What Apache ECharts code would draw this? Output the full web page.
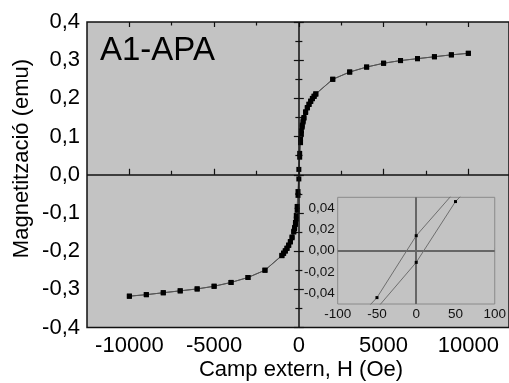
<!DOCTYPE html>
<html>
<head>
<meta charset="utf-8">
<script src="https://cdn.jsdelivr.net/npm/echarts@6/dist/echarts.min.js"></script>
<style>
  html, body { margin: 0; padding: 0; background: #fff; }
  #chart { width: 509px; height: 383px; }
</style>
</head>
<body>
<div id="chart"></div>
<script>
// descending branch (field from +10000 down to -10000 Oe)
var fieldDown = [10000, 9000, 8000, 7000, 6000, 5000, 4000, 3000, 2000, 1000, 900, 800, 700, 600, 500, 400, 300, 250, 200, 150, 100, 50, 0,
  -50, -100, -150, -200, -250, -300, -400, -500, -600, -700, -800, -900, -1000, -2000, -3000, -4000, -5000, -6000, -7000, -8000, -9000, -10000];
var magDown = [0.318, 0.314, 0.309, 0.304, 0.299, 0.292, 0.282, 0.269, 0.250, 0.212, 0.206, 0.200, 0.193, 0.185, 0.176, 0.165, 0.150, 0.141, 0.130, 0.115, 0.094, 0.056, 0.014,
  -0.044, -0.083, -0.108, -0.125, -0.138, -0.148, -0.163, -0.175, -0.184, -0.192, -0.199, -0.205, -0.211, -0.250, -0.269, -0.282, -0.292, -0.299, -0.304, -0.309, -0.314, -0.318];

// ascending branch (field from -10000 back up to +10000 Oe)
var fieldUp = [-10000, -9000, -8000, -7000, -6000, -5000, -4000, -3000, -2000, -1000, -900, -800, -700, -600, -500, -400, -300, -250, -200, -150, -100, -50, 0,
  50, 100, 150, 200, 250, 300, 400, 500, 600, 700, 800, 900, 1000, 2000, 3000, 4000, 5000, 6000, 7000, 8000, 9000, 10000];
var magUp = [-0.318, -0.314, -0.309, -0.304, -0.299, -0.292, -0.282, -0.269, -0.250, -0.212, -0.206, -0.200, -0.193, -0.185, -0.176, -0.165, -0.150, -0.141, -0.130, -0.116, -0.093, -0.054, -0.011,
  0.046, 0.084, 0.108, 0.125, 0.138, 0.148, 0.163, 0.175, 0.184, 0.192, 0.199, 0.205, 0.211, 0.250, 0.269, 0.282, 0.292, 0.299, 0.304, 0.309, 0.314, 0.318];

var majorTicksH = [-10000, -5000, 0, 5000, 10000];
var minorTicksH = [-7500, -2500, 2500, 7500];
var insetTicksM = [-0.04, -0.02, 0, 0.02, 0.04];

function pairs(xs, ys) {
  return xs.map(function (x, i) { return [x, ys[i]]; });
}
function comma(v, d) {
  return v.toFixed(d).replace('.', ',');
}

var FONT = 'Liberation Sans, Arial, sans-serif';
var plotGray = '#c3c3c3';

var myChart = echarts.init(document.getElementById('chart'));

function mainX(pos, ticks, len, labels) {
  return {
    type: 'value', gridIndex: 0, position: pos,
    min: -12500, max: 12400,
    axisLine: {show: false},
    splitLine: {show: false},
    axisTick: {show: true, inside: true, length: len, customValues: ticks, lineStyle: {color: '#111', width: 1.2}},
    axisLabel: labels ? {
      show: true, customValues: ticks, color: '#000', fontSize: 22, fontFamily: FONT, margin: 7,
      formatter: function (v) { return String(v); }
    } : {show: false}
  };
}

var insetTick = {show: true, inside: true, length: 3, lineStyle: {color: '#888', width: 1}};

myChart.setOption({
  animation: false,
  backgroundColor: '#fff',
  grid: [
    {left: 87, top: 22, right: -4, bottom: 55.5, show: true, backgroundColor: plotGray, borderColor: '#111', borderWidth: 1.5, z: 0},
    {left: 337.7, top: 197.3, width: 157.3, height: 106.7, show: true, backgroundColor: plotGray, borderColor: '#8a8a8a', borderWidth: 1, z: 3}
  ],
  xAxis: [
    mainX('bottom', majorTicksH, 6, true),
    mainX('bottom', minorTicksH, 4, false),
    mainX('top', majorTicksH, 5, false),
    mainX('top', minorTicksH, 3.5, false),
    {
      type: 'value', gridIndex: 1, position: 'bottom', min: -100, max: 100, interval: 50,
      axisLine: {show: false}, splitLine: {show: false},
      axisTick: insetTick,
      minorTick: {show: true, splitNumber: 2, length: 2, lineStyle: {color: '#888'}},
      axisLabel: {color: '#111', fontSize: 13.5, fontFamily: FONT, margin: 3}
    },
    {
      type: 'value', gridIndex: 1, position: 'top', min: -100, max: 100, interval: 50,
      axisLine: {show: false}, splitLine: {show: false},
      axisTick: insetTick,
      minorTick: {show: true, splitNumber: 2, length: 2, lineStyle: {color: '#888'}},
      axisLabel: {show: false}
    }
  ],
  yAxis: [
    {
      type: 'value', gridIndex: 0, position: 'left', min: -0.4, max: 0.4, interval: 0.1,
      axisLine: {show: false}, splitLine: {show: false},
      axisTick: {show: true, inside: true, length: 5, lineStyle: {color: '#111', width: 1.2}},
      minorTick: {show: true, splitNumber: 2, length: 3.5, lineStyle: {color: '#111', width: 1.2}},
      axisLabel: {
        color: '#000', fontSize: 22, fontFamily: FONT, margin: 7,
        formatter: function (v) { return comma(v, 1); }
      }
    },
    {
      type: 'value', gridIndex: 0, position: 'right', min: -0.4, max: 0.4, interval: 0.1,
      axisLine: {show: false}, splitLine: {show: false},
      axisTick: {show: true, inside: true, length: 5, lineStyle: {color: '#111', width: 1.2}},
      minorTick: {show: true, splitNumber: 2, length: 3.5, lineStyle: {color: '#111', width: 1.2}},
      axisLabel: {show: false}
    },
    {
      type: 'value', gridIndex: 1, position: 'left', min: -0.05, max: 0.05,
      axisLine: {show: false}, splitLine: {show: false},
      axisTick: Object.assign({customValues: insetTicksM}, insetTick),
      axisLabel: {
        customValues: insetTicksM, color: '#111', fontSize: 13.5, fontFamily: FONT, margin: 3,
        formatter: function (v) { return comma(v, 2); }
      }
    },
    {
      type: 'value', gridIndex: 1, position: 'right', min: -0.05, max: 0.05,
      axisLine: {show: false}, splitLine: {show: false},
      axisTick: Object.assign({customValues: insetTicksM}, insetTick),
      axisLabel: {show: false}
    }
  ],
  series: [
    {
      type: 'line', xAxisIndex: 0, yAxisIndex: 0, data: pairs(fieldDown, magDown),
      symbol: 'rect', symbolSize: 5, itemStyle: {color: '#000'},
      lineStyle: {color: '#555', width: 1}, z: 2,
      markLine: {
        silent: true, symbol: 'none', label: {show: false},
        lineStyle: {color: '#111', width: 1.5, type: 'solid'},
        data: [{xAxis: 0}, {yAxis: 0}]
      }
    },
    {
      type: 'line', xAxisIndex: 0, yAxisIndex: 0, data: pairs(fieldUp, magUp),
      symbol: 'rect', symbolSize: 5, itemStyle: {color: '#000'},
      lineStyle: {color: '#555', width: 1}, z: 2
    },
    {
      type: 'line', xAxisIndex: 4, yAxisIndex: 2, data: pairs(fieldDown, magDown), clip: true,
      symbol: 'rect', symbolSize: 3, itemStyle: {color: '#000'},
      lineStyle: {color: '#6e6e6e', width: 1}, z: 5,
      markLine: {
        silent: true, symbol: 'none', label: {show: false},
        lineStyle: {color: '#666', width: 2, type: 'solid'},
        data: [{xAxis: 0}, {yAxis: 0}]
      }
    },
    {
      type: 'line', xAxisIndex: 4, yAxisIndex: 2, data: pairs(fieldUp, magUp), clip: true,
      symbol: 'rect', symbolSize: 3, itemStyle: {color: '#000'},
      lineStyle: {color: '#6e6e6e', width: 1}, z: 5
    }
  ],
  graphic: [
    {
      type: 'text', left: 100, top: 34, z: 10,
      style: {text: 'A1-APA', fill: '#000', fontSize: 33, fontFamily: FONT}
    },
    {
      type: 'text', x: 301, y: 370, z: 10,
      style: {text: 'Camp extern, H (Oe)', fill: '#000', fontSize: 22, fontFamily: FONT, align: 'center', verticalAlign: 'middle'}
    },
    {
      type: 'text', x: 22, y: 158.5, rotation: Math.PI / 2, z: 10,
      style: {text: 'Magnetització (emu)', fill: '#000', fontSize: 22, fontFamily: FONT, align: 'center', verticalAlign: 'middle'}
    }
  ]
});
</script>
</body>
</html>
